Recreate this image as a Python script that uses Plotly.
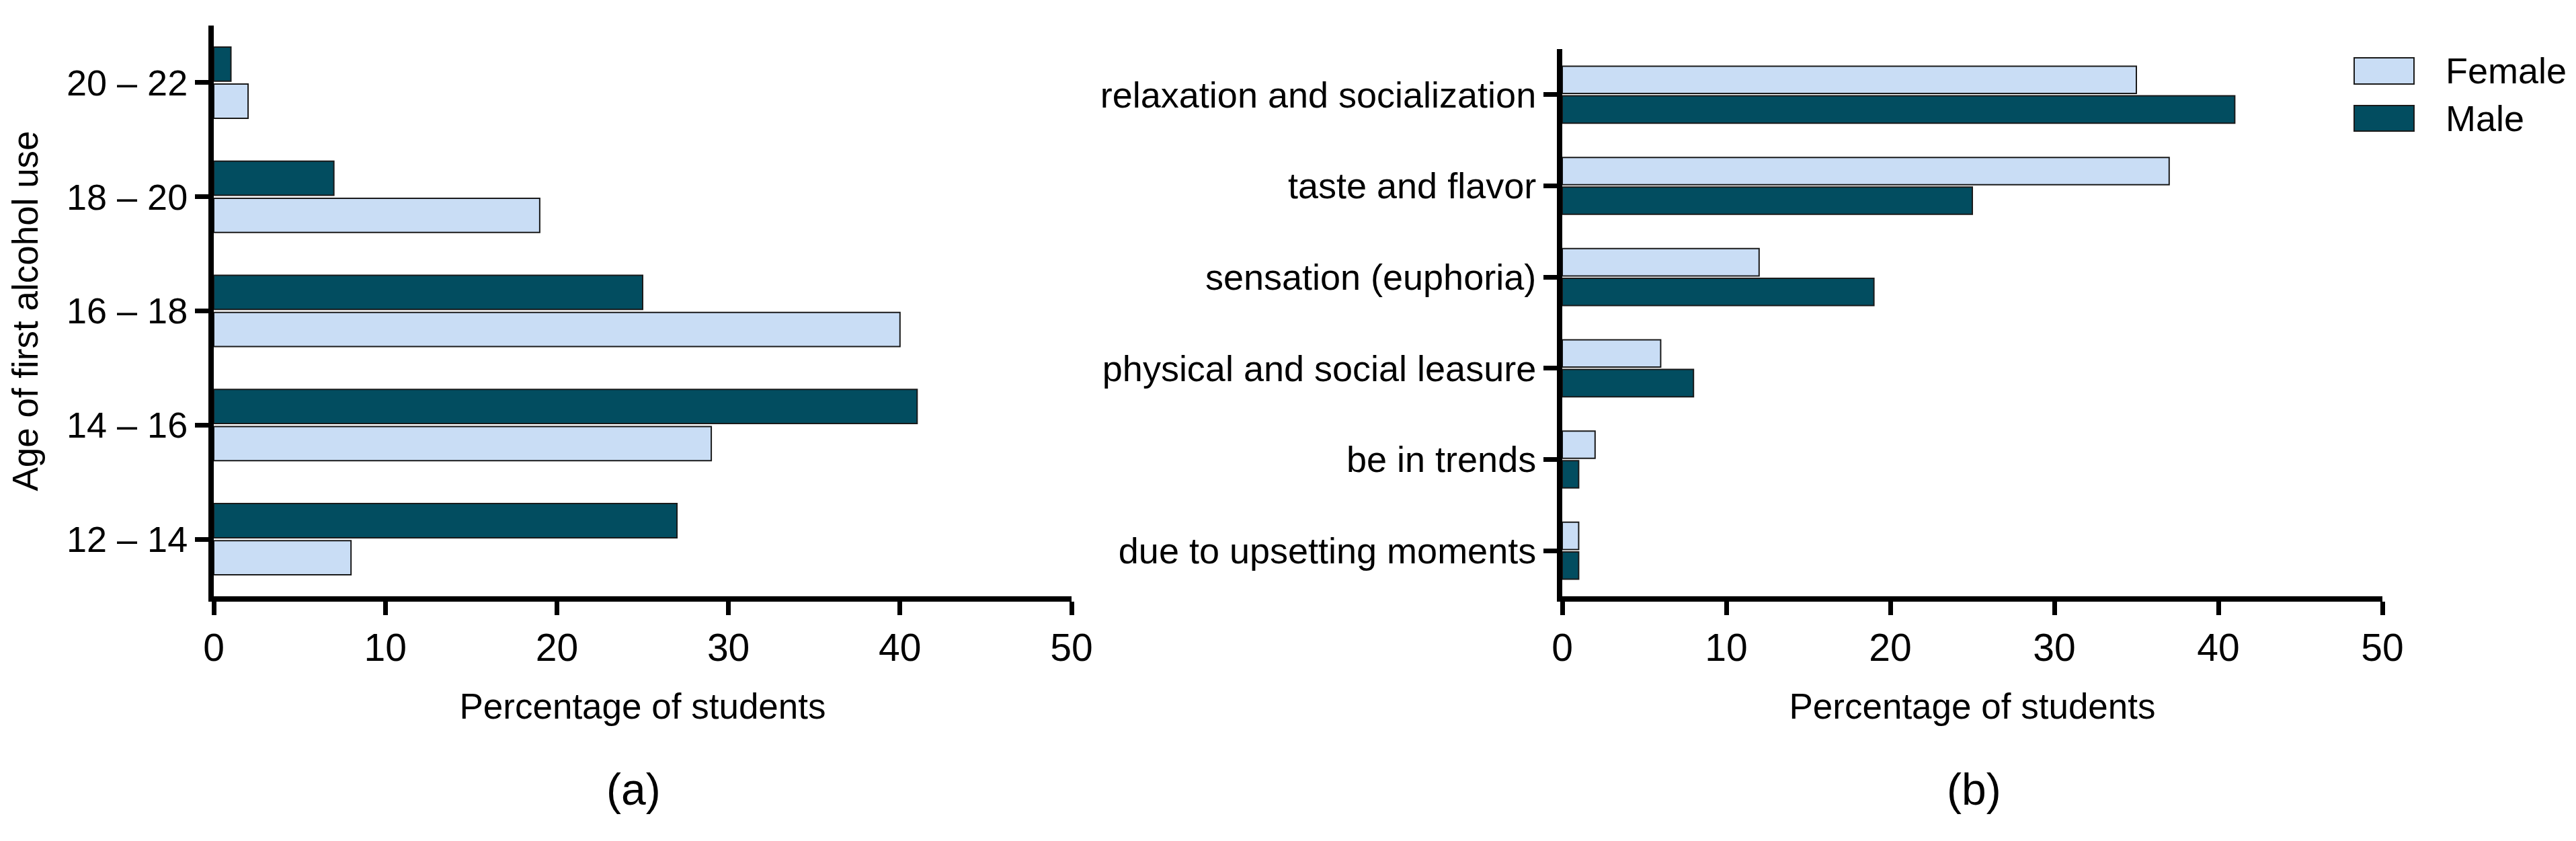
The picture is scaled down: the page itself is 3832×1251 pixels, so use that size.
import plotly.graph_objects as go
from plotly.subplots import make_subplots

# ---- data ----
age_groups = ["12 – 14", "14 – 16", "16 – 18", "18 – 20", "20 – 22"]
age_female = [8, 29, 40, 19, 2]
age_male = [27, 41, 25, 7, 1]

reasons = ["relaxation and socialization", "taste and flavor", "sensation (euphoria)",
           "physical and social leasure", "be in trends", "due to upsetting moments"]
reason_female = [35, 37, 12, 6, 2, 1]
reason_male = [41, 25, 19, 8, 1, 1]

x_ticks = [0, 10, 20, 30, 40, 50]
series_names = ["Female", "Male"]
female_color = "#C9DDF5"
male_color = "#024D60"
outline = "#1a1a1a"
FONT = "Liberation Sans Narrow, Arial Narrow, Liberation Sans, Arial, sans-serif"

W, H = 3832, 1251
fig = make_subplots(rows=1, cols=2)

fig.add_trace(go.Bar(y=age_groups, x=age_female, orientation="h", name=series_names[0],
                     marker=dict(color=female_color, line=dict(color=outline, width=2)),
                     showlegend=False), row=1, col=1)
fig.add_trace(go.Bar(y=age_groups, x=age_male, orientation="h", name=series_names[1],
                     marker=dict(color=male_color, line=dict(color=outline, width=2)),
                     showlegend=False), row=1, col=1)
fig.add_trace(go.Bar(y=reasons, x=reason_female, orientation="h", name=series_names[0],
                     marker=dict(color=female_color, line=dict(color=outline, width=2)),
                     showlegend=False), row=1, col=2)
fig.add_trace(go.Bar(y=reasons, x=reason_male, orientation="h", name=series_names[1],
                     marker=dict(color=male_color, line=dict(color=outline, width=2)),
                     showlegend=False), row=1, col=2)

axis_common = dict(showline=True, linewidth=8, linecolor="black", ticks="outside",
                   ticklen=20, tickwidth=7, tickcolor="black", showgrid=False,
                   zeroline=False, automargin=False)

yb = (H - 879) / H
fig.update_xaxes(**axis_common, range=[0, 50], tickvals=x_ticks,
                 tickfont=dict(family=FONT, size=57, color="black"),
                 title=dict(text="Percentage of students", font=dict(family=FONT, size=53, color="black"),
                            standoff=40))
fig.update_layout(
    xaxis=dict(domain=[310 / W, 1586 / W]),
    xaxis2=dict(domain=[2316 / W, 3536 / W]),
)
fig.update_yaxes(**axis_common, tickfont=dict(family=FONT, size=54, color="black"))
fig.update_layout(
    yaxis=dict(domain=[yb, (H - 30) / H], range=[-0.5, 4.5],
               title=dict(text="Age of first alcohol use", font=dict(family=FONT, size=53, color="black"),
                          standoff=30)),
    yaxis2=dict(domain=[yb, (H - 65) / H], range=[5.5, -0.5]),
)

# panel labels
fig.add_annotation(text="(a)", x=934 / W, y=(H - 1166) / H, xref="paper", yref="paper",
                   showarrow=False, font=dict(family=FONT, size=66, color="black"),
                   xanchor="center", yanchor="middle")
fig.add_annotation(text="(b)", x=2928 / W, y=(H - 1166) / H, xref="paper", yref="paper",
                   showarrow=False, font=dict(family=FONT, size=66, color="black"),
                   xanchor="center", yanchor="middle")

# legend (swatches + labels)
legend_rows = [(series_names[0], female_color, 78, 117), (series_names[1], male_color, 149, 187)]
for name, col, y0, y1 in legend_rows:
    fig.add_shape(type="rect", xref="paper", yref="paper",
                  x0=3494 / W, x1=3583 / W, y0=(H - y1) / H, y1=(H - y0) / H,
                  fillcolor=col, line=dict(color=outline, width=2))
    fig.add_annotation(text=name, x=3628 / W, y=(H - (y0 + y1) / 2) / H, xref="paper", yref="paper",
                       showarrow=False, font=dict(family=FONT, size=54, color="black"),
                       xanchor="left", yanchor="middle")

fig.update_layout(
    width=W, height=H, margin=dict(l=0, r=0, t=0, b=0),
    paper_bgcolor="white", plot_bgcolor="white",
    barmode="group", bargap=0.35, bargroupgap=0.08,
    showlegend=False,
    font=dict(family=FONT, color="black"),
)

fig.write_html("out.html")
